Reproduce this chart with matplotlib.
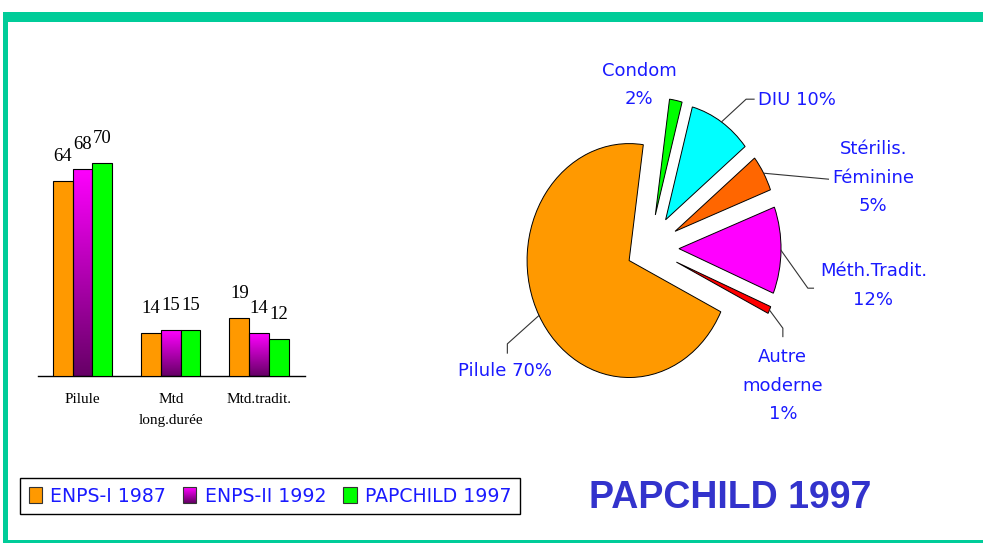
import numpy as np
import matplotlib
matplotlib.use('Agg')
import matplotlib.pyplot as plt
from matplotlib.patches import Rectangle
from matplotlib.colors import LinearSegmentedColormap
from matplotlib.legend_handler import HandlerBase

# bar chart data
categories = ['Pilule', 'Mtd\nlong.durée', 'Mtd.tradit.']
series_names = ['ENPS-I 1987', 'ENPS-II 1992', 'PAPCHILD 1997']
enps1 = [64, 14, 19]
enps2 = [68, 15, 14]
papchild = [70, 15, 12]

# pie data (drawn counter-clockwise from Pilule)
pie_names = ['Pilule', 'Autre\nmoderne', 'Méth.Tradit.', 'Stérilis.\nFéminine', 'DIU', 'Condom']
pie_values = [70, 1, 12, 5, 10, 2]
pie_seps = [' ', '\n', '\n', '\n', ' ', '\n']

ORANGE = '#FF9900'
GREEN = '#00FF00'
BLUE_TXT = '#1A1AFF'
mag_cmap = LinearSegmentedColormap.from_list('mag', ['#660066', '#FF00FF'])
pie_colors = [ORANGE, '#FF0000', '#FF00FF', '#FF6600', '#00FFFF', '#00FF00']
explode = [0.225, 0.29, 0.29, 0.29, 0.29, 0.29]

W, H = 983, 543
fig = plt.figure(figsize=(W / 100, H / 100), dpi=100)


def px(x0, y0, w, h):
    # pixel box (top-left origin) -> figure fraction box
    return [x0 / W, 1 - (y0 + h) / H, w / W, h / H]


# green frame
for box in [(3, 12, 980, 10), (3, 12, 5, 531), (3, 540, 980, 3)]:
    fb = px(*box)
    fig.add_artist(Rectangle(fb[:2], fb[2], fb[3],
                             transform=fig.transFigure, color='#00CC99', lw=0))

# ---------- bar chart ----------
ax1 = fig.add_axes(px(38, 130, 267, 246))
x = np.arange(len(categories))
w = 0.224
b1 = ax1.bar(x - w, enps1, w, color=ORANGE, edgecolor='black', lw=0.8, zorder=3)
b2 = ax1.bar(x, enps2, w, facecolor='none', edgecolor='black', lw=0.8, zorder=3)
b3 = ax1.bar(x + w, papchild, w, color=GREEN, edgecolor='black', lw=0.8, zorder=3)

grad = np.linspace(0, 1, 256).reshape(-1, 1)
for bar in b2:
    x0, bw, bh = bar.get_x(), bar.get_width(), bar.get_height()
    im = ax1.imshow(grad, extent=(x0, x0 + bw, 0, bh), origin='lower',
                    cmap=mag_cmap, aspect='auto', zorder=2)
    im.set_clip_path(bar)

for bars in (b1, b2, b3):
    for bar in bars:
        ax1.annotate(f'{int(bar.get_height())}',
                     (bar.get_x() + bar.get_width() / 2, bar.get_height()),
                     xytext=(0, 11.5), textcoords='offset points',
                     ha='center', va='bottom', fontsize=13.5,
                     family='Liberation Serif')

ax1.set_xlim(-0.504, 2.52)
ax1.set_ylim(0, 80.8)
ax1.set_xticks(x)
ax1.set_xticklabels(categories, family='Liberation Serif', fontsize=11,
                    linespacing=1.85)
ax1.tick_params(axis='x', length=0, pad=12)
ax1.set_yticks([])
for s in ['top', 'left', 'right']:
    ax1.spines[s].set_visible(False)
ax1.spines['bottom'].set_linewidth(1)
ax1.patch.set_alpha(0)


# legend with gradient swatch
class GradHandler(HandlerBase):
    def create_artists(self, legend, orig_handle, xdescent, ydescent,
                       width, height, fontsize, trans):
        n = 16
        arts = []
        for i in range(n):
            r = Rectangle((-xdescent, -ydescent + height * i / n), width, height / n,
                          facecolor=mag_cmap(i / (n - 1)), edgecolor='none',
                          transform=trans)
            arts.append(r)
        arts.append(Rectangle((-xdescent, -ydescent), width, height,
                              facecolor='none', edgecolor='#333333', lw=0.8,
                              transform=trans))
        return arts


h1 = Rectangle((0, 0), 1, 1, facecolor=ORANGE, edgecolor='#333333', lw=0.8)
h2 = Rectangle((0, 0), 1, 1)
h3 = Rectangle((0, 0), 1, 1, facecolor=GREEN, edgecolor='#333333', lw=0.8)
lb = px(20, 472, 497, 42)
leg = fig.legend([h1, h2, h3], series_names, handler_map={h2: GradHandler()},
                 loc='lower left', bbox_to_anchor=(lb[0], lb[1]), ncol=3,
                 prop={'family': 'DejaVu Sans', 'size': 13.6},
                 handlelength=0.7, handleheight=0.95, handletextpad=0.45,
                 columnspacing=0.9, borderpad=0.45, borderaxespad=0,
                 fancybox=False, framealpha=1, edgecolor='black')
leg.get_frame().set_linewidth(1)
for t in leg.get_texts():
    t.set_color(BLUE_TXT)

fig.text(730.5 / W, 1 - 497.5 / H, 'PAPCHILD 1997', ha='center', va='center',
         fontsize=27, fontweight='bold', family='Liberation Sans', color='#3333CC')

# ---------- pie ----------
ax2 = fig.add_axes(px(430, 40, 550, 400))
wedges, _ = ax2.pie(pie_values, colors=pie_colors, explode=explode, startangle=82,
                    counterclock=True, radius=1,
                    wedgeprops=dict(edgecolor='black', linewidth=0.7))
ax2.set_aspect('auto')
ax2.set_xlim(-2.15, 3.24)
ax2.set_ylim(-1.64, 1.78)
ax2.axis('off')

# label layout: (text x, text y, ha, leader points after the wedge edge)
label_layout = [
    (-1.415, -1.05, 'center', [(-1.392, -0.818), (-1.392, -0.897)]),
    (1.308, -1.175, 'center', [(1.308, -0.684), (1.308, -0.756)]),
    (2.195, -0.321, 'center', [(1.553, -0.342), (1.608, -0.342)]),
    (2.195, 0.604, 'center', [(1.755, 0.590)]),
    (1.067, 1.27, 'left', [(0.948, 1.274), (1.026, 1.274)]),
    (-0.101, 1.395, 'center', []),
]

for wdg, name, v, sep, (tx, ty, ha, pts) in zip(wedges, pie_names, pie_values,
                                                pie_seps, label_layout):
    ang = np.deg2rad((wdg.theta1 + wdg.theta2) / 2)
    cx, cy = wdg.center
    sx, sy = cx + np.cos(ang), cy + np.sin(ang)
    if pts:
        xs = [sx] + [p[0] for p in pts]
        ys = [sy] + [p[1] for p in pts]
        ax2.plot(xs, ys, color='#333333', lw=0.8)
    ax2.text(tx, ty, f'{name}{sep}{v}%', ha=ha, va='center', multialignment='center',
             fontsize=13, family='DejaVu Sans', color=BLUE_TXT, linespacing=1.75)

fig.savefig('out.png', dpi=100)
